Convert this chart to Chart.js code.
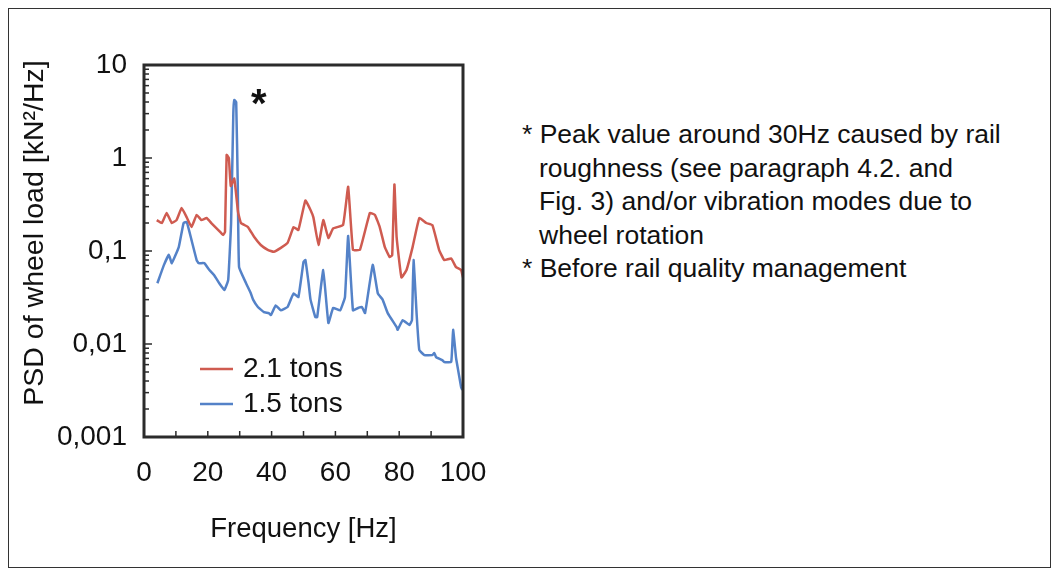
<!DOCTYPE html>
<html>
<head>
<meta charset="utf-8">
<script src="https://cdn.jsdelivr.net/npm/chart.js@4.4.0/dist/chart.umd.min.js"></script>
<style>
  body { margin: 0; background: #fff; }
  #frame { position: absolute; left: 8px; top: 8px; width: 1043px; height: 560px; border: 1.5px solid #333; box-sizing: border-box; }
  #wrap { position: absolute; left: 0; top: 0; width: 520px; height: 575px; }
  #notes { position: absolute; left: 522px; top: 118px; font-family: 'Liberation Sans', Arial, sans-serif; font-size: 26.5px; line-height: 33.5px; color: #111; }
  #notes p { margin: 0; padding-left: 17px; text-indent: -17px; }
</style>
</head>
<body>
<div id="frame"></div>
<div id="wrap"><canvas id="psd"></canvas></div>
<div id="notes">
  <p>* Peak value around 30Hz caused by rail<br>roughness (see paragraph 4.2. and<br>Fig. 3) and/or vibration modes due to<br>wheel rotation</p>
  <p>* Before rail quality management</p>
</div>
<script>
// 2.1 tons (red)
const redFreq = [4.0, 5.6, 7.1, 8.7, 10.2, 11.8, 13.4, 14.9, 16.5, 18.0, 19.6, 21.1, 23.3, 24.8, 25.4, 25.9, 26.6, 27.2, 28.3, 29.5,
  30.4, 32.6, 34.5, 36.6, 38.8, 40.7, 42.9, 45.0, 46.9, 48.4, 50.6, 52.2, 53.1, 54.7, 56.2, 57.8, 59.3, 62.4, 64.0, 65.5,
  67.7, 70.8, 72.4, 73.9, 75.5, 77.0, 77.8, 78.5, 79.2, 80.7, 82.3, 84.2, 86.3, 88.5, 90.4, 92.5, 94.1, 96.3, 97.8, 99.4, 100];
const redPsd = [0.215, 0.20, 0.256, 0.20, 0.215, 0.29, 0.23, 0.181, 0.244, 0.215, 0.226, 0.20, 0.168, 0.149, 0.16, 1.08, 1.0, 0.5, 0.6, 0.26,
  0.20, 0.181, 0.142, 0.116, 0.103, 0.098, 0.108, 0.122, 0.181, 0.168, 0.35, 0.276, 0.23, 0.116, 0.215, 0.138, 0.175, 0.19, 0.49, 0.103,
  0.103, 0.256, 0.244, 0.181, 0.11, 0.086, 0.09, 0.52, 0.14, 0.052, 0.0625, 0.11, 0.226, 0.20, 0.19, 0.103, 0.08, 0.083, 0.067, 0.0625, 0.052];

// 1.5 tons (blue)
const blueFreq = [4.2, 6.2, 7.8, 8.7, 10.9, 12.4, 13.4, 14.9, 16.5, 17.1, 18.9, 20.5, 22.0, 23.6, 25.2, 26.4, 27.3, 28.0, 28.3, 28.9,
  29.4, 29.8, 32.0, 33.5, 34.2, 35.7, 37.6, 39.1, 39.8, 41.3, 42.9, 45.0, 46.0, 46.9, 48.4, 50.0, 50.6, 51.6, 52.2, 53.7,
  54.3, 56.2, 57.8, 59.3, 61.5, 63.0, 64.0, 65.5, 67.1, 68.3, 69.3, 71.7, 73.3, 74.8, 76.4, 79.2, 79.5, 81.1, 83.2, 84.0,
  84.5, 85.5, 86.3, 87.9, 90.4, 91.0, 91.6, 93.5, 94.1, 96.3, 96.9, 97.8, 98.1, 99.4, 99.8];
const bluePsd = [0.045, 0.07, 0.091, 0.074, 0.11, 0.20, 0.205, 0.131, 0.08, 0.074, 0.074, 0.0625, 0.055, 0.045, 0.038, 0.049, 0.20, 3.0, 4.2, 4.0,
  0.5, 0.067, 0.045, 0.035, 0.030, 0.025, 0.022, 0.0215, 0.0205, 0.026, 0.023, 0.025, 0.030, 0.035, 0.032, 0.076, 0.080, 0.045, 0.030, 0.0195,
  0.0195, 0.0625, 0.0168, 0.0244, 0.023, 0.032, 0.145, 0.023, 0.0244, 0.025, 0.0215, 0.071, 0.035, 0.030, 0.0215, 0.0152, 0.0142, 0.018, 0.016, 0.018,
  0.080, 0.02, 0.0086, 0.0076, 0.0076, 0.008, 0.0072, 0.0067, 0.0064, 0.0064, 0.0142, 0.0072, 0.0062, 0.00345, 0.0032];

const yTickValues = [0.001, 0.01, 0.1, 1, 10];
const yTickLabels = ['0,001', '0,01', '0,1', '1', '10'];
const xTickValues = [0, 20, 40, 60, 80, 100];

const seriesLabels = ['2.1 tons', '1.5 tons'];
const seriesColors = ['#cf5b50', '#5482c8'];
const yTitle = 'PSD of wheel load [kN²/Hz]';

const FONT = "'Liberation Sans', Arial, sans-serif";
Chart.defaults.font.family = FONT;
Chart.defaults.color = '#111';

function toPoints(xs, ys) {
  return xs.map((x, i) => ({ x: x, y: ys[i] }));
}

// frame, inner ticks, legend, y title and the * mark
const decorations = {
  id: 'decorations',
  afterDatasetsDraw(chart) {
    const ctx = chart.ctx;
    const area = chart.chartArea;
    const xs = chart.scales.x, ys = chart.scales.y;
    ctx.save();
    ctx.strokeStyle = '#2b2b2b';
    ctx.lineWidth = 1.5;
    // y ticks inside, log minor ticks
    for (let d = 0; d < yTickValues.length - 1; d++) {
      for (let k = 1; k <= 9; k++) {
        const py = ys.getPixelForValue(yTickValues[d] * k);
        const len = k === 1 ? 8 : 5;
        ctx.beginPath();
        ctx.moveTo(area.left, py);
        ctx.lineTo(area.left + len, py);
        ctx.stroke();
      }
    }
    // x ticks inside every 10 Hz
    for (let f = 10; f < 100; f += 10) {
      const px = xs.getPixelForValue(f);
      ctx.beginPath();
      ctx.moveTo(px, area.bottom);
      ctx.lineTo(px, area.bottom - 6);
      ctx.stroke();
    }
    ctx.lineWidth = 3;
    ctx.strokeRect(area.left, area.top, area.right - area.left, area.bottom - area.top);

    // legend in lower left corner
    ctx.font = '28px ' + FONT;
    ctx.textBaseline = 'middle';
    ctx.fillStyle = '#111';
    chart.data.datasets.forEach((ds, i) => {
      const y = area.bottom - 68 + i * 35;
      ctx.strokeStyle = ds.borderColor;
      ctx.lineWidth = 2.5;
      ctx.beginPath();
      ctx.moveTo(area.left + 56, y);
      ctx.lineTo(area.left + 89, y);
      ctx.stroke();
      ctx.fillText(ds.label, area.left + 99, y);
    });

    // y axis title, a little above the plot centre like the original
    ctx.save();
    ctx.translate(35, (area.top + area.bottom) / 2 - 18);
    ctx.rotate(-Math.PI / 2);
    ctx.font = '28.5px ' + FONT;
    ctx.textAlign = 'center';
    ctx.fillText(yTitle, 0, 0);
    ctx.restore();

    // peak marker
    ctx.font = 'bold 40px ' + FONT;
    ctx.textAlign = 'center';
    ctx.fillText('*', xs.getPixelForValue(36), ys.getPixelForValue(3.6));
    ctx.restore();
  }
};

new Chart(document.getElementById('psd'), {
  type: 'line',
  data: {
    datasets: [
      { label: seriesLabels[0], data: toPoints(redFreq, redPsd), borderColor: seriesColors[0], borderWidth: 2.5, pointRadius: 0, tension: 0.1 },
      { label: seriesLabels[1], data: toPoints(blueFreq, bluePsd), borderColor: seriesColors[1], borderWidth: 2.5, pointRadius: 0, tension: 0.1 }
    ]
  },
  options: {
    responsive: true,
    maintainAspectRatio: false,
    animation: false,
    devicePixelRatio: 1,
    layout: { padding: { left: 0, right: 57, top: 65, bottom: 0 } },
    plugins: { legend: { display: false }, tooltip: { enabled: false } },
    scales: {
      x: {
        type: 'linear', min: 0, max: 100,
        afterBuildTicks: s => { s.ticks = xTickValues.map(v => ({ value: v })); },
        afterFit: s => { s.height = 138; },
        grid: { display: false, drawTicks: false },
        border: { display: false },
        ticks: { font: { size: 28 }, padding: 19, maxRotation: 0 },
        title: { display: true, text: 'Frequency [Hz]', font: { size: 27.5 }, padding: { top: 0, bottom: 29 } }
      },
      y: {
        type: 'logarithmic', min: 0.001, max: 10,
        afterBuildTicks: s => { s.ticks = yTickValues.map(v => ({ value: v })); },
        afterFit: s => { s.width = 144; },
        grid: { display: false, drawTicks: false },
        border: { display: false },
        ticks: { font: { size: 28 }, padding: 17, callback: (v, i) => yTickLabels[i] }
      }
    }
  },
  plugins: [decorations]
});
</script>
</body>
</html>
